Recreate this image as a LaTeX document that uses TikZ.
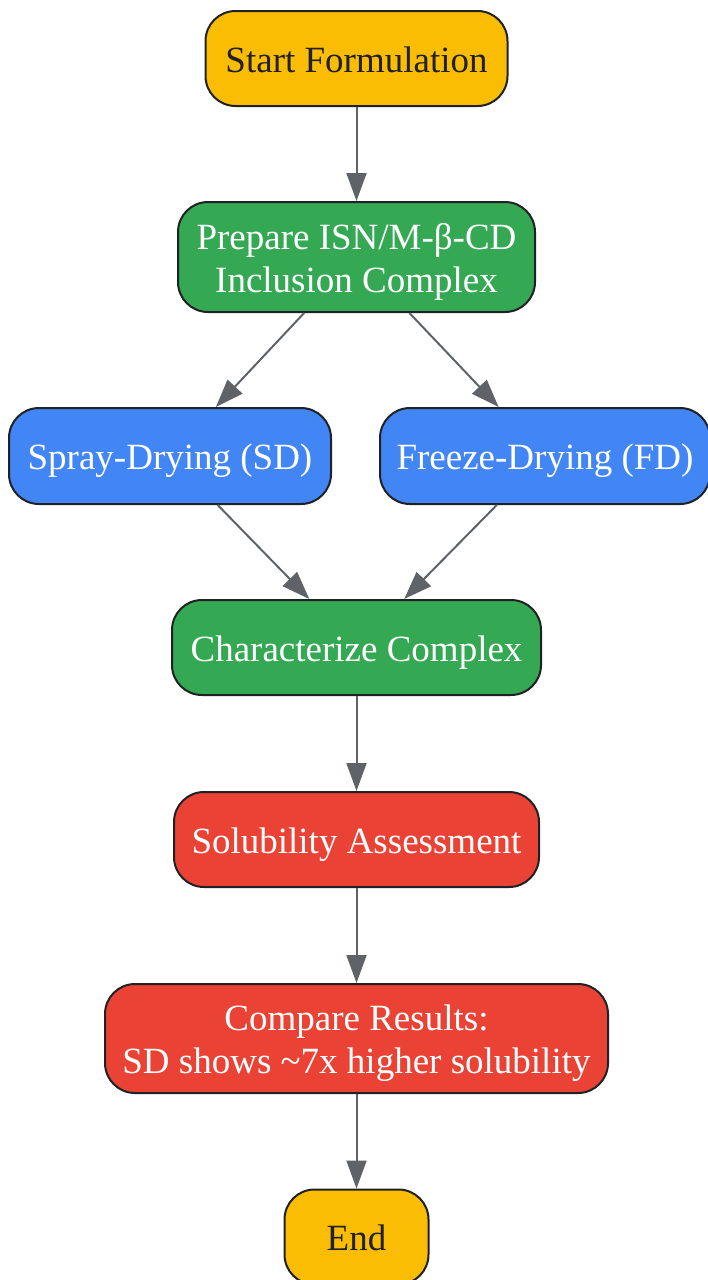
\documentclass[tikz,border=0pt]{standalone}
\usepackage{fontspec}
\setmainfont{Liberation Serif}
\usetikzlibrary{arrows.meta}
\definecolor{gyellow}{HTML}{FBBC04}
\definecolor{ggreen}{HTML}{34A853}
\definecolor{gblue}{HTML}{4285F4}
\definecolor{gred}{HTML}{EA4335}
\definecolor{edgegray}{HTML}{5F6368}
\definecolor{darktext}{HTML}{202124}
\begin{document}
\begin{tikzpicture}[x=1pt,y=-1pt,
  box/.style={draw=darktext, line width=2pt, rounded corners=30pt, align=center,
    font=\fontsize{37}{43}\selectfont, inner sep=0pt, text height=27.4pt, text depth=0pt},
  twoline/.style={text height=70.4pt, text depth=0pt},
  ybox/.style={box, fill=gyellow, text=darktext},
  gbox/.style={box, fill=ggreen, text=white},
  bbox/.style={box, fill=gblue, text=white},
  rbox/.style={box, fill=gred, text=white},
  conn/.style={draw=edgegray, line width=2pt, -{Triangle[length=28pt,width=20pt]}, fill=edgegray}]
\useasboundingbox (0,0) rectangle (707,1280);
\node[ybox, minimum width=302pt, minimum height=95pt] (start) at (356.5,58.5) {Start Formulation};
\node[gbox, twoline, minimum width=357pt, minimum height=110pt] (prep) at (356.5,257) {Prepare ISN/M-β-CD\\Inclusion Complex};
\node[bbox, minimum width=322pt, minimum height=96pt] (spray) at (170,456) {Spray-Drying (SD)};
\node[bbox, minimum width=330pt, minimum height=96pt] (freeze) at (545,456) {Freeze-Drying (FD)};
\node[gbox, minimum width=369pt, minimum height=95pt] (char) at (356.5,647.5) {Characterize Complex};
\node[rbox, minimum width=365pt, minimum height=95pt] (sol) at (356.5,839.5) {Solubility Assessment};
\node[rbox, twoline, minimum width=503pt, minimum height=109pt] (comp) at (356.5,1038.5) {Compare Results:\\SD shows \textasciitilde 7x higher solubility};
\node[ybox, minimum width=144pt, minimum height=95pt] (end) at (356.5,1237) {End};
\draw[conn] (start) -- (prep);
\draw[conn] (prep) -- (spray);
\draw[conn] (prep) -- (freeze);
\draw[conn] (spray) -- (char);
\draw[conn] (freeze) -- (char);
\draw[conn] (char) -- (sol);
\draw[conn] (sol) -- (comp);
\draw[conn] (comp) -- (end);
\end{tikzpicture}
\end{document}
